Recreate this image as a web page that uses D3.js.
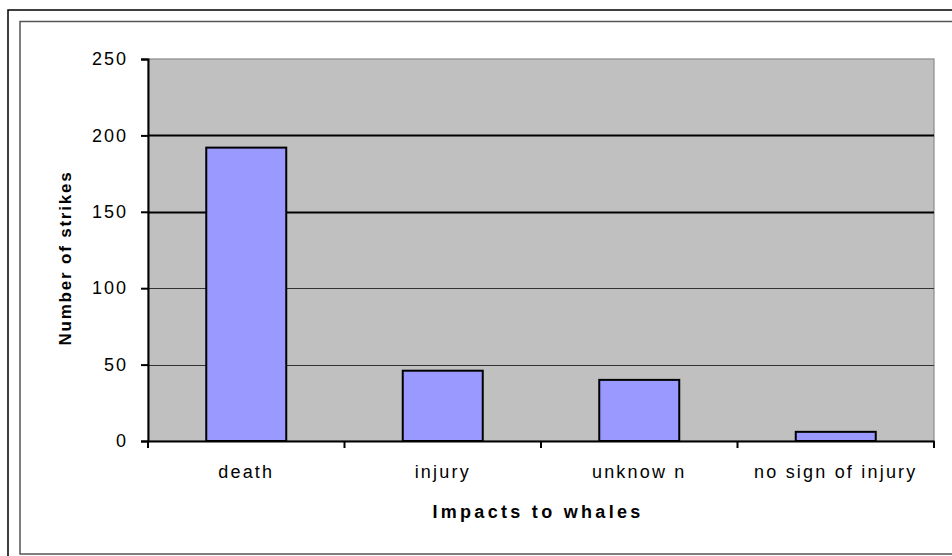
<!DOCTYPE html>
<html>
<head>
<meta charset="utf-8">
<script src="https://cdn.jsdelivr.net/npm/d3@7"></script>
<style>
  html, body { margin: 0; padding: 0; background: #fff; }
  svg { display: block; }
  text { font-family: "Liberation Sans", Arial, sans-serif; fill: #000; }
</style>
</head>
<body>
<svg id="chart" width="952" height="556"></svg>
<script>
// Data
const categories = ["death", "injury", "unknow n", "no sign of injury"];
const strikes = [192, 46, 40, 6];
const yTicks = [0, 50, 100, 150, 200, 250];
const xTitle = "Impacts to whales";
const yTitle = "Number of strikes";

const svg = d3.select("#chart");
const W = 952, H = 556;
const plot = { left: 148, right: 934, top: 59, bottom: 441 };

// Frames
svg.append("rect").attr("x", 8).attr("y", 10).attr("width", 960).attr("height", 560)
  .attr("fill", "#fff").attr("stroke", "#000").attr("stroke-width", 1.5);
svg.append("rect").attr("x", 20).attr("y", 21.5).attr("width", 950).attr("height", 532.5)
  .attr("fill", "#fff").attr("stroke", "#555").attr("stroke-width", 1.5);

const x = d3.scaleBand().domain(categories).range([plot.left, plot.right]).paddingInner(0).paddingOuter(0);
const y = d3.scaleLinear().domain([0, 250]).range([plot.bottom, plot.top]);

// Plot background
svg.append("rect").attr("x", plot.left).attr("y", plot.top)
  .attr("width", plot.right - plot.left).attr("height", plot.bottom - plot.top)
  .attr("fill", "#c0c0c0").attr("stroke", "#8a8a8a").attr("stroke-width", 1.2);

// Gridlines
svg.append("g").selectAll("line").data(yTicks.filter(d => d > 0 && d < 250)).join("line")
  .attr("x1", plot.left).attr("x2", plot.right)
  .attr("y1", d => Math.round(y(d)) + 0.5).attr("y2", d => Math.round(y(d)) + 0.5)
  .attr("stroke", d => d >= 150 ? "#000" : "#333")
  .attr("stroke-width", d => d >= 150 ? 2 : 1.2);

// Bars
const barW = 80;
svg.append("g").selectAll("rect").data(categories).join("rect")
  .attr("x", d => x(d) + x.bandwidth() / 2 - barW / 2)
  .attr("y", (d, i) => y(strikes[i]))
  .attr("width", barW)
  .attr("height", (d, i) => y(0) - y(strikes[i]))
  .attr("fill", "#9999ff").attr("stroke", "#000").attr("stroke-width", 2);

// Y axis
const yAxis = d3.axisLeft(y).tickValues(yTicks).tickSize(7).tickPadding(13);
const gy = svg.append("g").attr("transform", `translate(${plot.left},0)`).call(yAxis);
gy.select(".domain").attr("stroke", "#000").attr("stroke-width", 2);
gy.selectAll(".tick line").attr("stroke", "#000").attr("stroke-width", 2);
gy.selectAll(".tick text").attr("font-size", 18).attr("letter-spacing", "2px")
  .attr("font-family", "Liberation Sans, Arial, sans-serif").attr("fill", "#000");

// X axis
const xAxis = d3.axisBottom(x).tickSize(0).tickPadding(0).tickFormat(d => d);
const gx = svg.append("g").attr("transform", `translate(0,${plot.bottom})`).call(xAxis);
gx.select(".domain").attr("stroke", "#000").attr("stroke-width", 2);
gx.selectAll(".tick text").attr("font-size", 18).attr("letter-spacing", "2.2px")
  .attr("font-family", "Liberation Sans, Arial, sans-serif").attr("fill", "#000")
  .attr("dy", null).attr("y", 37);
// tick marks at band boundaries
const bounds = categories.map(d => x(d)).concat([plot.right]);
svg.append("g").selectAll("line").data(bounds).join("line")
  .attr("x1", d => d).attr("x2", d => d)
  .attr("y1", plot.bottom).attr("y2", plot.bottom + 7)
  .attr("stroke", "#000").attr("stroke-width", 2);

// Titles
svg.append("text").attr("x", 538).attr("y", 518).attr("text-anchor", "middle")
  .attr("font-size", 18).attr("font-weight", "bold").attr("letter-spacing", "3.3px")
  .text(xTitle);
svg.append("text").attr("transform", "translate(71,258) rotate(-90)").attr("text-anchor", "middle")
  .attr("font-size", 17).attr("font-weight", "bold").attr("letter-spacing", "1.8px")
  .text(yTitle);
</script>
</body>
</html>
